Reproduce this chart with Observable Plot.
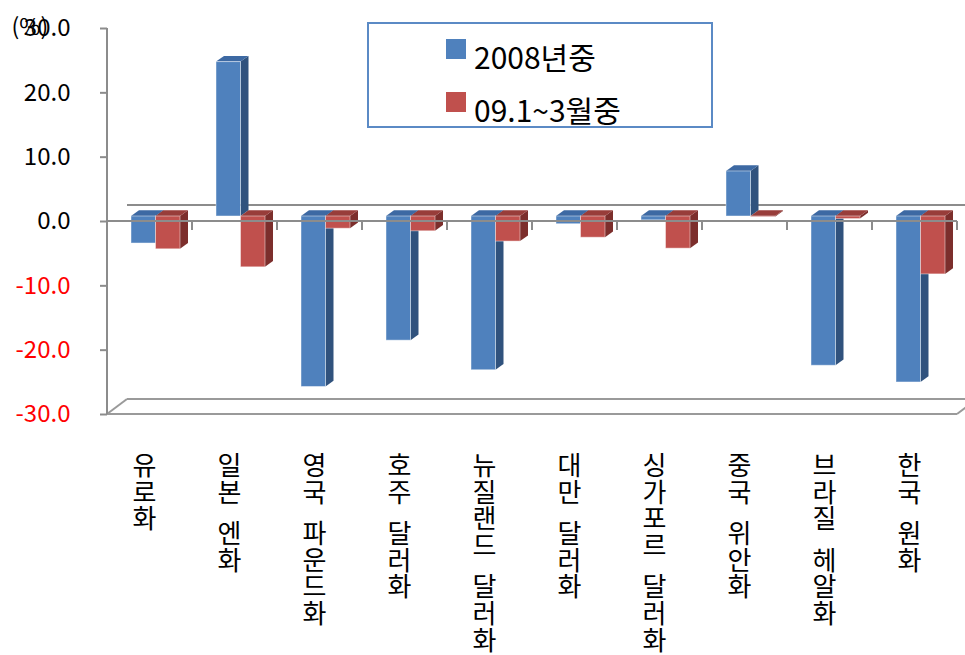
<!DOCTYPE html>
<html>
<head>
<meta charset="utf-8">
<script src="https://cdn.jsdelivr.net/npm/d3@7"></script>
<script src="https://cdn.jsdelivr.net/npm/@observablehq/plot@0.6"></script>
<style>
  body { margin: 0; background: #fff; }
  #wrap { position: relative; width: 965px; height: 655px; font-family: "Noto Sans CJK KR", "Noto Sans", sans-serif; }
  #legend { position: absolute; left: 367px; top: 22px; width: 346px; height: 106px; box-sizing: border-box; border: 2px solid #5b8ac5; background: #fff; }
  #legend .sw { position: absolute; left: 77px; width: 20px; height: 20px; }
  #legend .lb { position: absolute; left: 105px; font-size: 30px; line-height: 30px; color: #000; white-space: nowrap; }
  .vlabel { writing-mode: vertical-rl; text-orientation: mixed; }
</style>
</head>
<body>
<div id="wrap"></div>
<script>
// ---- data ----
const categories = ["유로화", "일본 엔화", "영국 파운드화", "호주 달러화", "뉴질랜드 달러화", "대만 달러화", "싱가포르 달러화", "중국 위안화", "브라질 헤알화", "한국 원화"];
const seriesNames = ["2008년중", "09.1~3월중"];
const values2008 = [-4.2, 24.0, -26.5, -19.3, -23.9, -1.2, -0.6, 7.0, -23.2, -25.8];
const values2009Q1 = [-5.1, -7.9, -1.9, -2.3, -3.9, -3.3, -5.0, -0.1, -0.4, -9.0];
const yTicks = [-30, -20, -10, 0, 10, 20, 30];
const unitLabel = "(%)";

// ---- styles ----
const W = 965, H = 655, ML = 107, MR = 8, MT = 28, MB = 241;
const BW = (W - ML - MR) / categories.length;
const BAR_W = 24.5, SHIFT_X = 6, SHIFT_Y = -5, DEPTH_X = 8, DEPTH_Y = -5.7;
const BACK_X = 20, BACK_Y = -16, FLOOR_Y = -15;
const GRAY = "#8c8c8c";
const palettes = [
  {front: "#4f81bd", side: "#30527d", top: "#3d69a3"},
  {front: "#c0504d", side: "#7c2e2c", top: "#983d3a"}
];

const rows = seriesNames.map((s, k) =>
  categories.map((c, i) => ({category: c, series: s, value: (k === 0 ? values2008 : values2009Q1)[i]}))
);

function bwOf(x) { return typeof x.bandwidth === "function" ? x.bandwidth() : x.bandwidth; }
function line(g, x1, y1, x2, y2, w = 2, c = GRAY) {
  g.append("line").attr("x1", x1).attr("y1", y1).attr("x2", x2).attr("y2", y2)
    .attr("stroke", c).attr("stroke-width", w);
}

function backFrame(index, scales, values, dims) {
  const {x, y} = scales;
  const g = d3.create("svg:g");
  const xL = dims.marginLeft, xR = dims.width - dims.marginRight;
  const y0 = y(0), yB = y(-30), yT = y(30);
  line(g, xL + BACK_X, y0 + BACK_Y, xR + BACK_X, y0 + BACK_Y);
  line(g, xL + BACK_X, yB + FLOOR_Y, xR + BACK_X, yB + FLOOR_Y, 2, "#9a9a9a");
  line(g, xL, yB, xL + BACK_X, yB + FLOOR_Y, 2, "#9a9a9a");
  line(g, xL, yB, xR, yB, 2, "#9a9a9a");
  line(g, xR, yB, xR + BACK_X, yB + FLOOR_Y, 2, "#9a9a9a");
  line(g, xL, yT, xL, yB);
  return g.node();
}

function extrude(data, k) {
  const pal = palettes[k];
  return (index, scales) => {
    const {x, y} = scales;
    const bw = bwOf(x);
    const g = d3.create("svg:g");
    for (const d of data) {
      const x1 = x(d.category) + bw / 2 + SHIFT_X + (k - 1) * BAR_W;
      const x2 = x1 + BAR_W;
      const top = Math.min(y(0), y(d.value)) + SHIFT_Y;
      const bot = Math.max(y(0), y(d.value)) + SHIFT_Y;
      g.append("polygon")
        .attr("points", [[x2, top], [x2 + DEPTH_X, top + DEPTH_Y], [x2 + DEPTH_X, bot + DEPTH_Y], [x2, bot]].join(" "))
        .attr("fill", pal.side);
      g.append("polygon")
        .attr("points", [[x1, top], [x2, top], [x2 + DEPTH_X, top + DEPTH_Y], [x1 + DEPTH_X, top + DEPTH_Y]].join(" "))
        .attr("fill", pal.top);
    }
    return g.node();
  };
}

function frontBars(data, k) {
  const insetLeft = BW / 2 + SHIFT_X + (k - 1) * BAR_W;
  return Plot.barY(data, {
    x: "category", y: "value",
    fill: palettes[k].front,
    insetLeft, insetRight: BW - insetLeft - BAR_W,
    dy: SHIFT_Y,
    stroke: "#ffffff", strokeOpacity: 0.45, strokeWidth: 1
  });
}

function frontFrame(index, scales, values, dims) {
  const {x, y} = scales;
  const bw = bwOf(x);
  const g = d3.create("svg:g");
  const xL = dims.marginLeft, xR = dims.width - dims.marginRight;
  const y0 = y(0);
  line(g, xL, y0, xR, y0);
  for (const c of categories) {
    const xb = x(c) + bw;
    line(g, xb, y0, xb, y0 + 9);
  }
  return g.node();
}

function categoryLabels(index, scales) {
  const {x, y} = scales;
  const bw = bwOf(x);
  const g = d3.create("svg:g")
    .attr("font-size", 26).attr("text-anchor", "start").attr("fill", "#000");
  for (const c of categories) {
    const cx = x(c) + bw / 2 - 5;
    g.append("text")
      .attr("class", "vlabel")
      .attr("x", cx).attr("y", y(-30) + 38)
      .style("letter-spacing", "0.7px")
      .style("word-spacing", "8px")
      .text(c);
  }
  return g.node();
}

const axisCommon = {
  tickSize: 7, tickPadding: 30, stroke: GRAY, strokeWidth: 2,
  fontSize: 24, tickFormat: d => d.toFixed(1), label: null
};

const plot = Plot.plot({
  width: W, height: H,
  marginLeft: ML, marginRight: MR, marginTop: MT, marginBottom: MB,
  x: {type: "band", domain: categories, padding: 0, axis: null},
  y: {domain: [-30, 30]},
  style: {fontFamily: "'Noto Sans CJK KR', 'Noto Sans', sans-serif", background: "transparent", color: "#000"},
  marks: [
    backFrame,
    extrude(rows[0], 0),
    frontBars(rows[0], 0),
    extrude(rows[1], 1),
    frontBars(rows[1], 1),
    frontFrame,
    Plot.axisY(yTicks.filter(d => d >= 0), {...axisCommon, fill: "#000"}),
    Plot.axisY(yTicks.filter(d => d < 0), {...axisCommon, fill: "#ff0000"}),
    Plot.text([unitLabel], {frameAnchor: "top-left", text: d => d, dx: -96, dy: -10, textAnchor: "start", fontSize: 23, fill: "#000"}),
    categoryLabels
  ]
});

const wrap = document.getElementById("wrap");
wrap.appendChild(plot);

// legend
const legend = document.createElement("div");
legend.id = "legend";
const legendTops = [{sw: 15, lb: 17}, {sw: 68, lb: 70}];
seriesNames.forEach((s, k) => {
  const sw = document.createElement("div");
  sw.className = "sw";
  sw.style.top = legendTops[k].sw + "px";
  sw.style.background = palettes[k].front;
  const lb = document.createElement("div");
  lb.className = "lb";
  lb.style.top = legendTops[k].lb + "px";
  lb.textContent = s;
  legend.appendChild(sw);
  legend.appendChild(lb);
});
wrap.appendChild(legend);
</script>
</body>
</html>
